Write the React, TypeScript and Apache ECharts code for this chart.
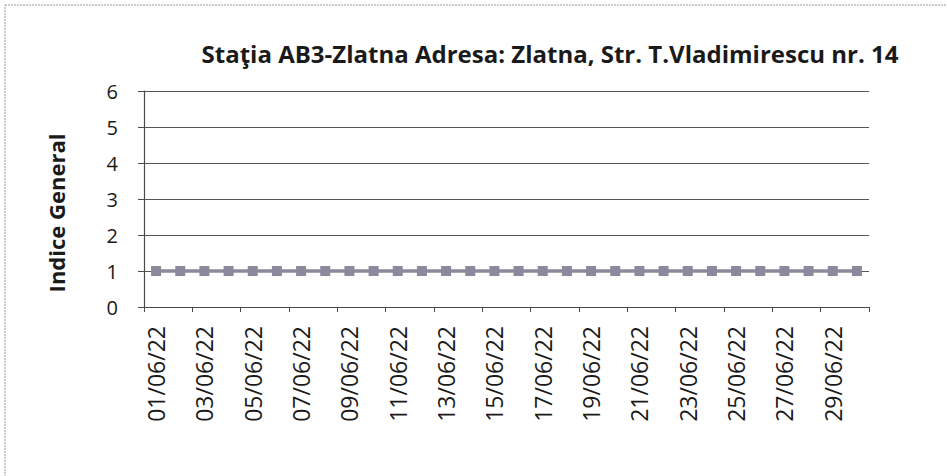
import React, { useEffect, useRef } from "react";
import * as echarts from "echarts";

const categories: string[] = [
  "01/06/22","02/06/22","03/06/22","04/06/22","05/06/22","06/06/22","07/06/22","08/06/22","09/06/22","10/06/22",
  "11/06/22","12/06/22","13/06/22","14/06/22","15/06/22","16/06/22","17/06/22","18/06/22","19/06/22","20/06/22",
  "21/06/22","22/06/22","23/06/22","24/06/22","25/06/22","26/06/22","27/06/22","28/06/22","29/06/22","30/06/22",
];
const indiceGeneral: number[] = [
  1,1,1,1,1,1,1,1,1,1,
  1,1,1,1,1,1,1,1,1,1,
  1,1,1,1,1,1,1,1,1,1,
];
const titleText = "Staţia AB3-Zlatna Adresa: Zlatna, Str. T.Vladimirescu nr. 14";
const yAxisName = "Indice General";

const FONT = "'Open Sans', 'Noto Sans', sans-serif";

export default function App() {
  const ref = useRef<HTMLDivElement>(null);
  useEffect(() => {
    if (!ref.current) return;
    const chart = echarts.init(ref.current, undefined, { renderer: "svg" });
    chart.setOption({
      animation: false,
      backgroundColor: "#ffffff",
      title: {
        text: titleText,
        left: 545,
        top: 36,
        textAlign: "center",
        textStyle: { fontFamily: FONT, fontSize: 24, fontWeight: "bold", color: "#1a1a1a" },
      },
      graphic: [
        {
          type: "rect",
          shape: { x: 5, y: 5, width: 960, height: 500 },
          style: { fill: "none", stroke: "#9a9a9a", lineWidth: 1, lineDash: [2, 1] },
          silent: true,
        },
        {
          type: "text",
          x: 56,
          y: 213,
          rotation: Math.PI / 2,
          style: {
            text: yAxisName,
            fontFamily: FONT,
            fontSize: 22,
            fontWeight: "bold",
            fill: "#1a1a1a",
            align: "center",
            verticalAlign: "middle",
          },
          silent: true,
        },
      ],
      grid: { left: 144, right: 78, top: 91, bottom: 169 },
      xAxis: {
        type: "category",
        data: categories,
        boundaryGap: true,
        axisLine: { lineStyle: { color: "#4a4a4a", width: 1.2 } },
        axisTick: { show: true, interval: 1, length: 5, lineStyle: { color: "#4a4a4a" } },
        axisLabel: {
          interval: 1,
          rotate: 90,
          margin: 19,
          fontFamily: FONT,
          fontSize: 23,
          color: "#1a1a1a",
        },
        splitLine: { show: false },
      },
      yAxis: {
        type: "value",
        min: 0,
        max: 6,
        interval: 1,
        axisLine: { show: true, lineStyle: { color: "#4a4a4a", width: 1.2 } },
        axisTick: { show: true, length: 6, lineStyle: { color: "#4a4a4a" } },
        axisLabel: { fontFamily: FONT, fontSize: 20, color: "#1a1a1a", margin: 26 },
        splitLine: { show: true, lineStyle: { color: "#555555", width: 1 } },
      },
      series: [
        {
          type: "line",
          data: indiceGeneral,
          symbol: "rect",
          symbolSize: 10,
          lineStyle: { color: "#8a8a9c", width: 3.5 },
          itemStyle: { color: "#8a8a9c" },
        },
      ],
    });
    return () => chart.dispose();
  }, []);
  return (
    <div
      ref={ref}
      style={{ position: "fixed", left: 0, top: 0, width: 947, height: 476 }}
    />
  );
}
